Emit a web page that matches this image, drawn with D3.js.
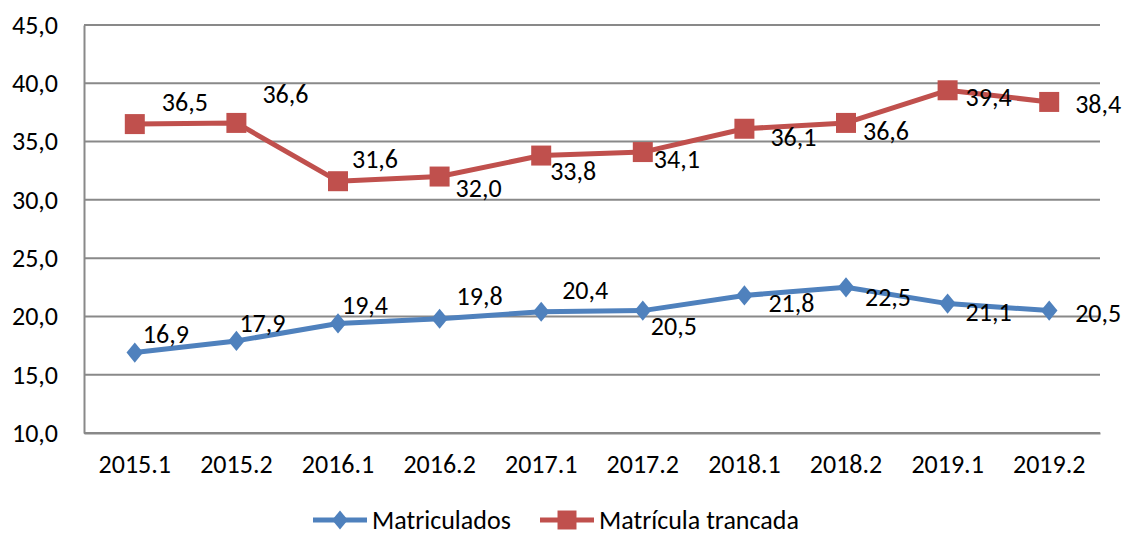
<!DOCTYPE html>
<html lang="pt">
<head>
<meta charset="UTF-8">
<title>Matriculados x Matrícula trancada</title>
<style>
  body { margin: 0; background: #fff; }
  svg { display: block; }
  text { font-family: Carlito, Lato, sans-serif; fill: #000; }
  .tick text { font-size: 26px; font-family: Carlito, Lato, sans-serif; }
  .lbl { font-size: 26px; }
  .leg { font-size: 26px; }
</style>
</head>
<body>
<div id="chart"></div>
<script src="https://d3js.org/d3.v7.min.js"></script>
<script>
const categories = ["2015.1", "2015.2", "2016.1", "2016.2", "2017.1", "2017.2", "2018.1", "2018.2", "2019.1", "2019.2"];
const matriculados = [16.9, 17.9, 19.4, 19.8, 20.4, 20.5, 21.8, 22.5, 21.1, 20.5];
const trancada = [36.5, 36.6, 31.6, 32.0, 33.8, 34.1, 36.1, 36.6, 39.4, 38.4];
const yTicks = [10, 15, 20, 25, 30, 35, 40, 45];

// label placement (left edge / baseline offset from the point, px) as Excel put them
const trancadaLabelPos = [[27, -13], [26, -20], [14, -13], [16, 20], [9, 24], [11, 16], [26, 17], [17, 17], [18, 16], [26, 11]];
const matriculadosLabelPos = [[8, -10], [3, -9], [4, -9], [17, -14], [21, -13], [8, 24], [24, 17], [19, 19], [18, 17], [26, 11]];

const width = 1124, height = 535;
const margin = { left: 84, right: 24, top: 25, bottom: 102 };

const svg = d3.select("#chart").append("svg")
  .attr("width", width)
  .attr("height", height);

const x = d3.scaleBand()
  .domain(categories)
  .range([margin.left, width - margin.right]);

const y = d3.scaleLinear()
  .domain([10, 45])
  .range([height - margin.bottom, margin.top]);

const fmt = v => d3.format(".1f")(v).replace(".", ",");

// gridlines
svg.append("g")
  .selectAll("line")
  .data(yTicks)
  .join("line")
  .attr("x1", margin.left)
  .attr("x2", width - margin.right)
  .attr("y1", d => y(d))
  .attr("y2", d => y(d))
  .attr("stroke", "#898989")
  .attr("stroke-width", 2);

// y axis
const yAxis = svg.append("g")
  .attr("transform", `translate(${margin.left},0)`)
  .call(d3.axisLeft(y).tickValues(yTicks).tickFormat(fmt).tickSize(0).tickPadding(26));
yAxis.select(".domain").attr("stroke", "#898989").attr("stroke-width", 2);

// x axis
const xAxis = svg.append("g")
  .attr("transform", `translate(0,${height - margin.bottom})`)
  .call(d3.axisBottom(x).tickSize(0).tickPadding(22));
xAxis.select(".domain").attr("stroke", "#898989").attr("stroke-width", 2);

const cx = d => x(d) + x.bandwidth() / 2;

const series = [
  { name: "Matriculados", values: matriculados, color: "#4F81BD", symbol: d3.symbolDiamond2, size: 260, pos: matriculadosLabelPos },
  { name: "Matrícula trancada", values: trancada, color: "#C0504D", symbol: d3.symbolSquare, size: 400, pos: trancadaLabelPos }
];

const line = d3.line()
  .x((d, i) => cx(categories[i]))
  .y(d => y(d));

const symTransform = (s, px, py) => s.symbol === d3.symbolDiamond2
  ? `translate(${px},${py}) scale(0.82,1)`
  : `translate(${px},${py})`;

series.forEach(s => {
  svg.append("path")
    .datum(s.values)
    .attr("fill", "none")
    .attr("stroke", s.color)
    .attr("stroke-width", 5)
    .attr("stroke-linejoin", "round")
    .attr("d", line);

  const sym = d3.symbol().type(s.symbol).size(s.size);
  svg.append("g")
    .selectAll("path")
    .data(s.values)
    .join("path")
    .attr("d", sym)
    .attr("fill", s.color)
    .attr("transform", (d, i) => symTransform(s, cx(categories[i]), y(d)));

  svg.append("g")
    .selectAll("text")
    .data(s.values)
    .join("text")
    .attr("class", "lbl")
    .attr("x", (d, i) => cx(categories[i]) + s.pos[i][0])
    .attr("y", (d, i) => y(d) + s.pos[i][1])
    .text(fmt);
});

// legend
const legend = svg.append("g").attr("transform", `translate(313,${height - 15})`);
const legendX = [0, 227];
series.forEach((s, i) => {
  const g = legend.append("g").attr("transform", `translate(${legendX[i]},0)`);
  g.append("line")
    .attr("x1", 0).attr("x2", 54)
    .attr("stroke", s.color).attr("stroke-width", 5);
  g.append("path")
    .attr("d", d3.symbol().type(s.symbol).size(s.size * 0.9))
    .attr("fill", s.color)
    .attr("transform", symTransform(s, 27, 0));
  g.append("text")
    .attr("class", "leg")
    .attr("x", 59)
    .attr("dy", "0.35em")
    .text(s.name);
});
</script>
</body>
</html>
